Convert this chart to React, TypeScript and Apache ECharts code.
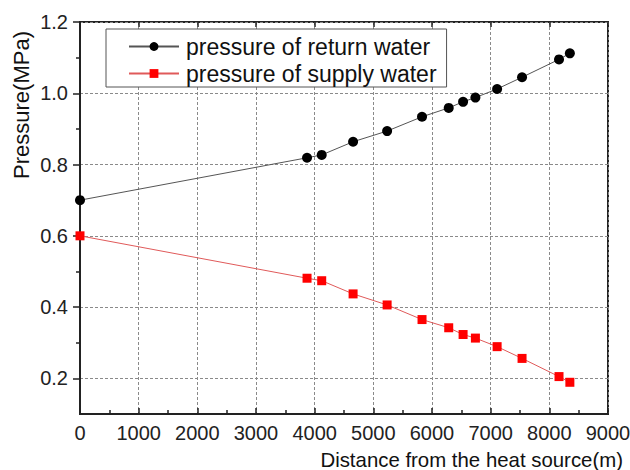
import React, { useEffect, useRef } from "react";
import * as echarts from "echarts";

// Distance along the network from the heat source (m)
const distance = [0, 3870, 4120, 4655, 5235, 5830, 6285, 6530, 6740, 7110, 7535, 8165, 8350];
// Pressure of return water (MPa)
const returnPressure = [0.7, 0.819, 0.827, 0.864, 0.894, 0.934, 0.959, 0.976, 0.988, 1.012, 1.045, 1.095, 1.112];
// Pressure of supply water (MPa)
const supplyPressure = [0.6, 0.481, 0.474, 0.437, 0.406, 0.365, 0.342, 0.323, 0.313, 0.289, 0.256, 0.205, 0.189];

const yMajorTicks = [0.2, 0.4, 0.6, 0.8, 1.0, 1.2];
const yMinorTicks = [0.3, 0.5, 0.7, 0.9, 1.1];

const FONT = '"Liberation Sans", Arial, sans-serif';

export default function App() {
  const ref = useRef<HTMLDivElement>(null);

  useEffect(() => {
    document.body.style.margin = "0";
    if (!ref.current) return;
    const chart = echarts.init(ref.current, null, { renderer: "svg" });

    const gridLine = { show: true, lineStyle: { color: "#8a8a8a", width: 1, type: [3, 2] as any } };

    chart.setOption({
      animation: false,
      backgroundColor: "#ffffff",
      textStyle: { fontFamily: FONT },
      grid: {
        left: 80,
        top: 22,
        right: 22,
        bottom: 56,
        show: true,
        borderColor: "#222",
        borderWidth: 2,
        backgroundColor: "transparent",
        outerBoundsMode: "none",
      },
      legend: {
        orient: "vertical",
        left: 106,
        top: 29,
        padding: [6, 10, 2, 22],
        itemGap: 4,
        itemWidth: 50,
        itemHeight: 11,
        borderColor: "#555",
        borderWidth: 1,
        backgroundColor: "#fff",
        textStyle: { fontSize: 23, color: "#111", fontFamily: FONT, padding: [0, 0, 0, 2] },
        data: ["pressure of return water", "pressure of supply water"],
      },
      xAxis: [
        {
          type: "value",
          position: "bottom",
          min: 0,
          max: 9000,
          interval: 1000,
          axisLine: { show: true, lineStyle: { color: "#222", width: 2 } },
          axisTick: { show: true, inside: true, length: 6, lineStyle: { color: "#222", width: 1.5 } },
          minorTick: { show: true, splitNumber: 2, length: 4, lineStyle: { color: "#222", width: 1.5 } },
          axisLabel: {
            fontSize: 20,
            color: "#222",
            margin: 9,
            fontFamily: FONT,
            formatter: (v: number) => String(v),
          },
          splitLine: gridLine,
        },
        {
          type: "value",
          position: "top",
          min: 0,
          max: 9000,
          interval: 1000,
          axisLine: { show: false },
          axisTick: { show: true, inside: true, length: 5, lineStyle: { color: "#222", width: 1.5 } },
          axisLabel: { show: false },
          splitLine: { show: false },
        },
      ],
      yAxis: [
        {
          type: "value",
          position: "left",
          min: 0.1,
          max: 1.2,
          axisLine: { show: true, lineStyle: { color: "#222", width: 2 } },
          axisTick: {
            show: true,
            inside: false,
            length: 7,
            customValues: yMajorTicks,
            lineStyle: { color: "#222", width: 1.5 },
          },
          axisLabel: {
            customValues: yMajorTicks,
            formatter: (v: number) => v.toFixed(1),
            fontSize: 20,
            color: "#222",
            margin: 12,
            fontFamily: FONT,
          },
          splitLine: gridLine,
        },
        {
          type: "value",
          position: "left",
          min: 0.1,
          max: 1.2,
          axisLine: { show: false },
          axisTick: {
            show: true,
            inside: false,
            length: 4,
            customValues: yMinorTicks,
            lineStyle: { color: "#222", width: 1.5 },
          },
          axisLabel: { show: false },
          splitLine: { show: false },
        },
      ],
      graphic: [
        {
          type: "text",
          x: 21,
          y: 105,
          rotation: Math.PI / 2,
          style: {
            text: "Pressure(MPa)",
            fontSize: 22,
            fontFamily: FONT,
            fill: "#111",
            align: "center",
            verticalAlign: "middle",
          },
        },
        {
          type: "text",
          x: 623,
          y: 460,
          style: {
            text: "Distance from the heat source(m)",
            fontSize: 20.4,
            fontFamily: FONT,
            fill: "#111",
            align: "right",
            verticalAlign: "middle",
          },
        },
      ],
      series: [
        {
          name: "pressure of return water",
          type: "line",
          xAxisIndex: 0,
          yAxisIndex: 0,
          data: distance.map((d, i) => [d, returnPressure[i]]),
          symbol: "circle",
          symbolSize: 10,
          itemStyle: { color: "#000" },
          lineStyle: { color: "#555", width: 1 },
          clip: false,
          z: 3,
        },
        {
          name: "pressure of supply water",
          type: "line",
          xAxisIndex: 0,
          yAxisIndex: 0,
          data: distance.map((d, i) => [d, supplyPressure[i]]),
          symbol: "rect",
          symbolSize: 9,
          itemStyle: { color: "#ff0000" },
          lineStyle: { color: "#e05a5a", width: 1 },
          clip: false,
          z: 3,
        },
      ],
    });

    return () => chart.dispose();
  }, []);

  return <div ref={ref} style={{ width: 630, height: 470 }} />;
}
